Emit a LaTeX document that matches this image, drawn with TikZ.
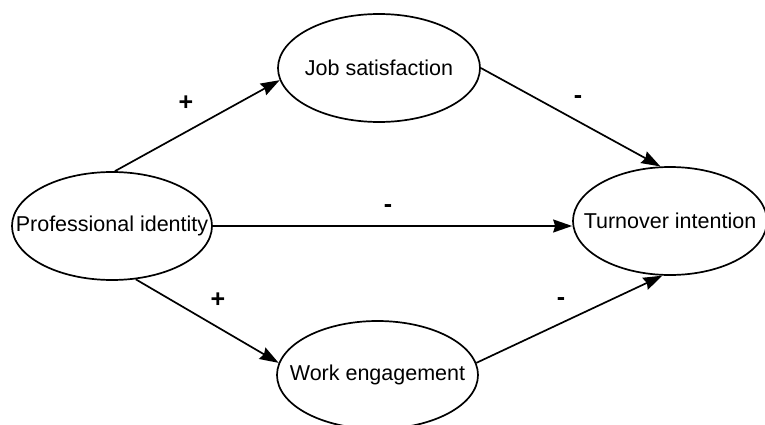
\documentclass[tikz,border=0pt]{standalone}
\usepackage{fontspec}
\setmainfont{Liberation Sans}
\usetikzlibrary{arrows.meta,shapes.geometric}
\begin{document}
\begin{tikzpicture}[x=1pt,y=-1pt,
  var/.style={draw,ellipse,line width=1.7pt,inner sep=0pt,
    minimum width=#1,minimum height=108pt,
    font=\fontsize{21.5}{25}\selectfont},
  var/.default=200pt,
  link/.style={line width=1.7pt,-{Stealth[length=19pt,width=13pt,inset=2pt]}},
  sign/.style={anchor=base,inner sep=0pt,font=\fontsize{25}{28}\selectfont\bfseries}]
\useasboundingbox (0,0) rectangle (765,425);
\node[var=200pt] (prof) at (112,226) {\makebox[0pt]{\raisebox{-1.5pt}{Professional identity}}};
\node[var=202pt] (job) at (379,68) {\makebox[0pt]{Job satisfaction}};
\node[var=194pt] (turn) at (670,221) {\makebox[0pt]{Turnover intention}};
\node[var=201pt] (work) at (377.5,375) {\makebox[0pt]{Work engagement}};
\draw[link] (prof.87) -- (job.187);
\draw[link] (job.0) -- (turn.100);
\draw[link] (prof.east) -- (turn.west |- prof.east);
\draw[link] (prof.-66) -- (work.173);
\draw[link] (work.7) -- (turn.262);
\node[sign] (s1) at (186,111) {+};
\node[sign] (s2) at (578,103) {-};
\node[sign] (s3) at (388,212) {-};
\node[sign] (s4) at (218,307) {+};
\node[sign] (s5) at (561,305) {-};
\end{tikzpicture}
\end{document}
